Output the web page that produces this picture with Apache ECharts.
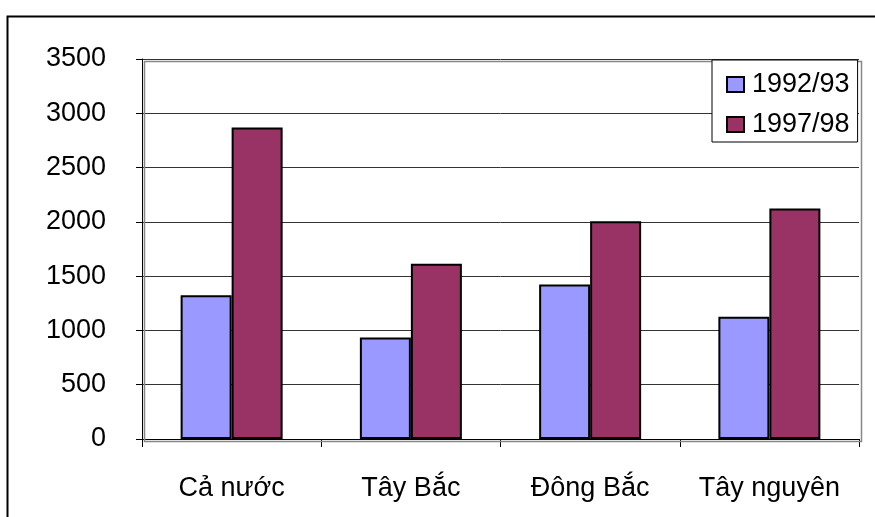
<!DOCTYPE html>
<html>
<head>
<meta charset="utf-8">
<script src="https://cdn.jsdelivr.net/npm/echarts@6/dist/echarts.min.js"></script>
<style>
  html, body { margin: 0; padding: 0; background: #fff; }
  #chart { width: 875px; height: 517px; }
</style>
</head>
<body>
<div id="chart"></div>
<script>
// Regions and the two survey periods
const categories = ['Cả nước', 'Tây Bắc', 'Đông Bắc', 'Tây nguyên'];
const seriesNames = ['1992/93', '1997/98'];
const values9293 = [1325, 935, 1423, 1126];
const values9798 = [2868, 1613, 2006, 2122];

const font = '"Liberation Sans", Arial, sans-serif';
const chart = echarts.init(document.getElementById('chart'));

chart.setOption({
  backgroundColor: '#ffffff',
  animation: false,
  graphic: [{
    type: 'rect',
    left: 5, top: 14,
    shape: { width: 1000, height: 1000 },
    style: { fill: 'none', stroke: '#000', lineWidth: 2 },
    z: 0
  }, {
    // plot-area frame
    type: 'rect',
    left: 142, top: 59,
    shape: { width: 717, height: 380 },
    style: { fill: 'none', stroke: '#888', lineWidth: 1.5 },
    z: 1
  }],
  grid: { left: 142, top: 59, right: 16, bottom: 78, containLabel: false },
  legend: {
    orient: 'vertical',
    left: 712, top: 60,
    data: seriesNames,
    icon: 'rect',
    backgroundColor: '#fff',
    borderColor: '#000',
    borderWidth: 1,
    padding: [11, 8, 4, 14],
    itemWidth: 17,
    itemHeight: 15,
    itemGap: 13,
    textStyle: { fontFamily: font, fontSize: 27, color: '#000', padding: [0, 0, 0, 3] }
  },
  xAxis: {
    type: 'category',
    data: categories,
    axisLine: { lineStyle: { color: '#000', width: 1 } },
    axisTick: { show: true, interval: 0, length: 8, lineStyle: { color: '#000' } },
    axisLabel: { interval: 0, fontFamily: font, fontSize: 27, color: '#000', margin: 36 }
  },
  yAxis: {
    type: 'value',
    min: 0, max: 3500, interval: 500,
    axisLine: { show: true, lineStyle: { color: '#000', width: 1 } },
    axisTick: { show: true, length: 6, lineStyle: { color: '#000' } },
    axisLabel: {
      fontFamily: font, fontSize: 27, color: '#000', margin: 36,
      formatter: function (v) { return String(v); }
    },
    splitLine: { lineStyle: { color: '#333', width: 1 } }
  },
  series: [{
    name: seriesNames[0],
    type: 'bar',
    data: values9293,
    barWidth: 51,
    barGap: '0%',
    itemStyle: { color: '#9999FF', borderColor: '#000', borderWidth: 2 }
  }, {
    name: seriesNames[1],
    type: 'bar',
    data: values9798,
    barWidth: 51,
    itemStyle: { color: '#993366', borderColor: '#000', borderWidth: 2 }
  }]
});
</script>
</body>
</html>
